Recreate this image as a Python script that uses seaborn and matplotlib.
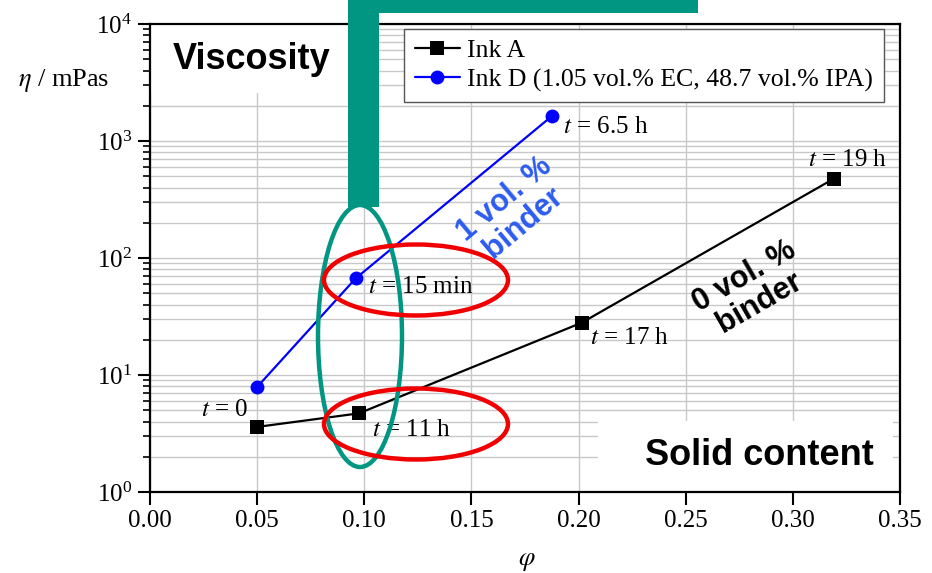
import numpy as np
import pandas as pd
import matplotlib
matplotlib.use("Agg")
import matplotlib.pyplot as plt
import seaborn as sns
from matplotlib.patches import Ellipse, Rectangle
from matplotlib.ticker import LogLocator, FixedLocator, NullFormatter

# ---- data ----
ink_a_phi = [0.050, 0.0975, 0.2015, 0.319]
ink_a_eta = [3.6, 4.7, 28.0, 475.0]
ink_a_labels = ["$t$ = 0", "$t$ = 11 h", "$t$ = 17 h", "$t$ = 19 h"]

ink_d_phi = [0.050, 0.096, 0.1875]
ink_d_eta = [7.9, 67.0, 1630.0]
ink_d_labels = [None, "$t$ = 15 min", "$t$ = 6.5 h"]

series_names = ["Ink A", "Ink D (1.05 vol.% EC, 48.7 vol.% IPA)"]
x_ticks = [0.00, 0.05, 0.10, 0.15, 0.20, 0.25, 0.30, 0.35]

sns.set_theme(style="white")
plt.rcParams['font.family'] = ['Liberation Serif', 'DejaVu Serif']
plt.rcParams['mathtext.fontset'] = 'stix'
plt.rcParams['text.color'] = 'black'
plt.rcParams['axes.labelcolor'] = 'black'
plt.rcParams['xtick.color'] = 'black'
plt.rcParams['ytick.color'] = 'black'

fig = plt.figure(figsize=(9.32, 5.73), dpi=100)
ax = fig.add_axes([150/932, 81/573, 750/932, 468/573])

df_a = pd.DataFrame({"phi": ink_a_phi, "eta": ink_a_eta})
df_d = pd.DataFrame({"phi": ink_d_phi, "eta": ink_d_eta})

sns.lineplot(data=df_a, x="phi", y="eta", ax=ax, color="black", marker="s",
             markersize=9.5, markeredgewidth=0, linewidth=1.6, sort=False,
             label=series_names[0], zorder=5)
sns.lineplot(data=df_d, x="phi", y="eta", ax=ax, color="#0000ff", marker="o",
             markersize=10, markeredgewidth=0, linewidth=1.6, sort=False,
             label=series_names[1], zorder=5)

ax.set_yscale("log")
ax.set_xlim(0, 0.35)
ax.set_ylim(1, 1e4)
ax.xaxis.set_major_locator(FixedLocator(x_ticks))
ax.set_xticklabels([f"{v:.2f}" for v in x_ticks])
ax.yaxis.set_major_locator(LogLocator(base=10, numticks=10))
ax.yaxis.set_minor_locator(LogLocator(base=10, subs=np.arange(2, 10), numticks=20))
ax.yaxis.set_minor_formatter(NullFormatter())

ax.grid(False)
ax.grid(True, axis="x", which="major", color="#c8c8c8", linewidth=1.0)
ax.grid(True, axis="y", which="minor", color="#c8c8c8", linewidth=1.0)
ax.grid(True, axis="y", which="major", color="#c8c8c8", linewidth=1.0)
ax.set_axisbelow(True)

for s in ax.spines.values():
    s.set_linewidth(1.6)
    s.set_color("black")
ax.tick_params(axis="both", which="major", direction="out", length=9, width=1.5,
               labelsize=18, colors="black", left=True, bottom=True, pad=4)
ax.tick_params(axis="y", which="minor", direction="out", length=5, width=1.2, left=True)
ax.set_xlabel("")
ax.set_ylabel("")

# white cover boxes
ax.add_patch(Rectangle((0, 0.853), 0.265, 0.147, transform=ax.transAxes,
                       facecolor="white", edgecolor="none", zorder=2))
ax.add_patch(Rectangle((0.597, 0.0), 0.394, 0.152, transform=ax.transAxes,
                       facecolor="white", edgecolor="none", zorder=2))

ax.text(0.03, 0.925, "Viscosity", transform=ax.transAxes, fontsize=26,
        fontweight="bold", family="Liberation Sans", va="center", ha="left",
        color="black", zorder=3)
ax.text(0.965, 0.078, "Solid content", transform=ax.transAxes, fontsize=26,
        fontweight="bold", family="Liberation Sans", va="center", ha="right",
        color="black", zorder=3)

# point annotations
offs_a = [(-9, 17, "right"), (13, -17, "left"), (8, -15, "left"), (14, 19, "center")]
for x, y, lab, (dx, dy, ha) in zip(ink_a_phi, ink_a_eta, ink_a_labels, offs_a):
    ax.annotate(lab, (x, y), xytext=(dx, dy), textcoords="offset pixels",
                fontsize=18, ha=ha, va="center", color="black", zorder=6)
offs_d = [None, (12, -9, "left"), (11, -11, "left")]
for x, y, lab, o in zip(ink_d_phi, ink_d_eta, ink_d_labels, offs_d):
    if lab is None:
        continue
    ax.annotate(lab, (x, y), xytext=(o[0], o[1]), textcoords="offset pixels",
                fontsize=18, ha=o[2], va="center", color="black", zorder=6)

# rotated binder labels
fig.text(514/932, 1 - 211/573, "1 vol. %\nbinder", rotation=40, color="#2c5cf0",
         fontsize=22, fontweight="bold", family="Liberation Sans",
         ha="center", va="center", linespacing=1.0, rotation_mode="anchor")
fig.text(752/932, 1 - 290/573, "0 vol. %\nbinder", rotation=30, color="black",
         fontsize=22, fontweight="bold", family="Liberation Sans",
         ha="center", va="center", linespacing=1.0, rotation_mode="anchor")

leg = ax.legend(loc="upper right", bbox_to_anchor=(0.978, 0.99), fontsize=18.5,
                frameon=True, fancybox=False, framealpha=1, edgecolor="#555555",
                handlelength=1.75, handletextpad=0.3, borderpad=0.4,
                labelspacing=0.25, borderaxespad=0)
leg.get_frame().set_linewidth(1.0)
leg.set_zorder(7)
for t in leg.get_texts():
    t.set_color("black")

# axis labels
fig.text(64/932, 1 - 80/573, r"$\eta$ / mPas", fontsize=19, ha="center",
         va="center", color="black")
fig.text(527/932, 1 - 562/573, r"$\varphi$", fontsize=19, ha="center",
         va="center", color="black")

# teal T-shape and ellipses
teal = "#009682"
fig.patches.append(Rectangle((350/932, 1 - 13/573), 348/932, 13/573,
                             transform=fig.transFigure, facecolor=teal,
                             edgecolor="none", zorder=10))
fig.patches.append(Rectangle((348/932, 1 - 207/573), 31/932, 207/573,
                             transform=fig.transFigure, facecolor=teal,
                             edgecolor="none", zorder=10))
fig.patches.append(Ellipse((360/932, 1 - 336/573), 84/932, 262/573,
                           transform=fig.transFigure, facecolor="none",
                           edgecolor=teal, linewidth=3.2, zorder=10))
for cy in (280, 424):
    fig.patches.append(Ellipse((416/932, 1 - cy/573), 184/932, 71/573,
                               transform=fig.transFigure, facecolor="none",
                               edgecolor="#f00000", linewidth=3.2, zorder=11))

fig.savefig("out.png", dpi=100)
